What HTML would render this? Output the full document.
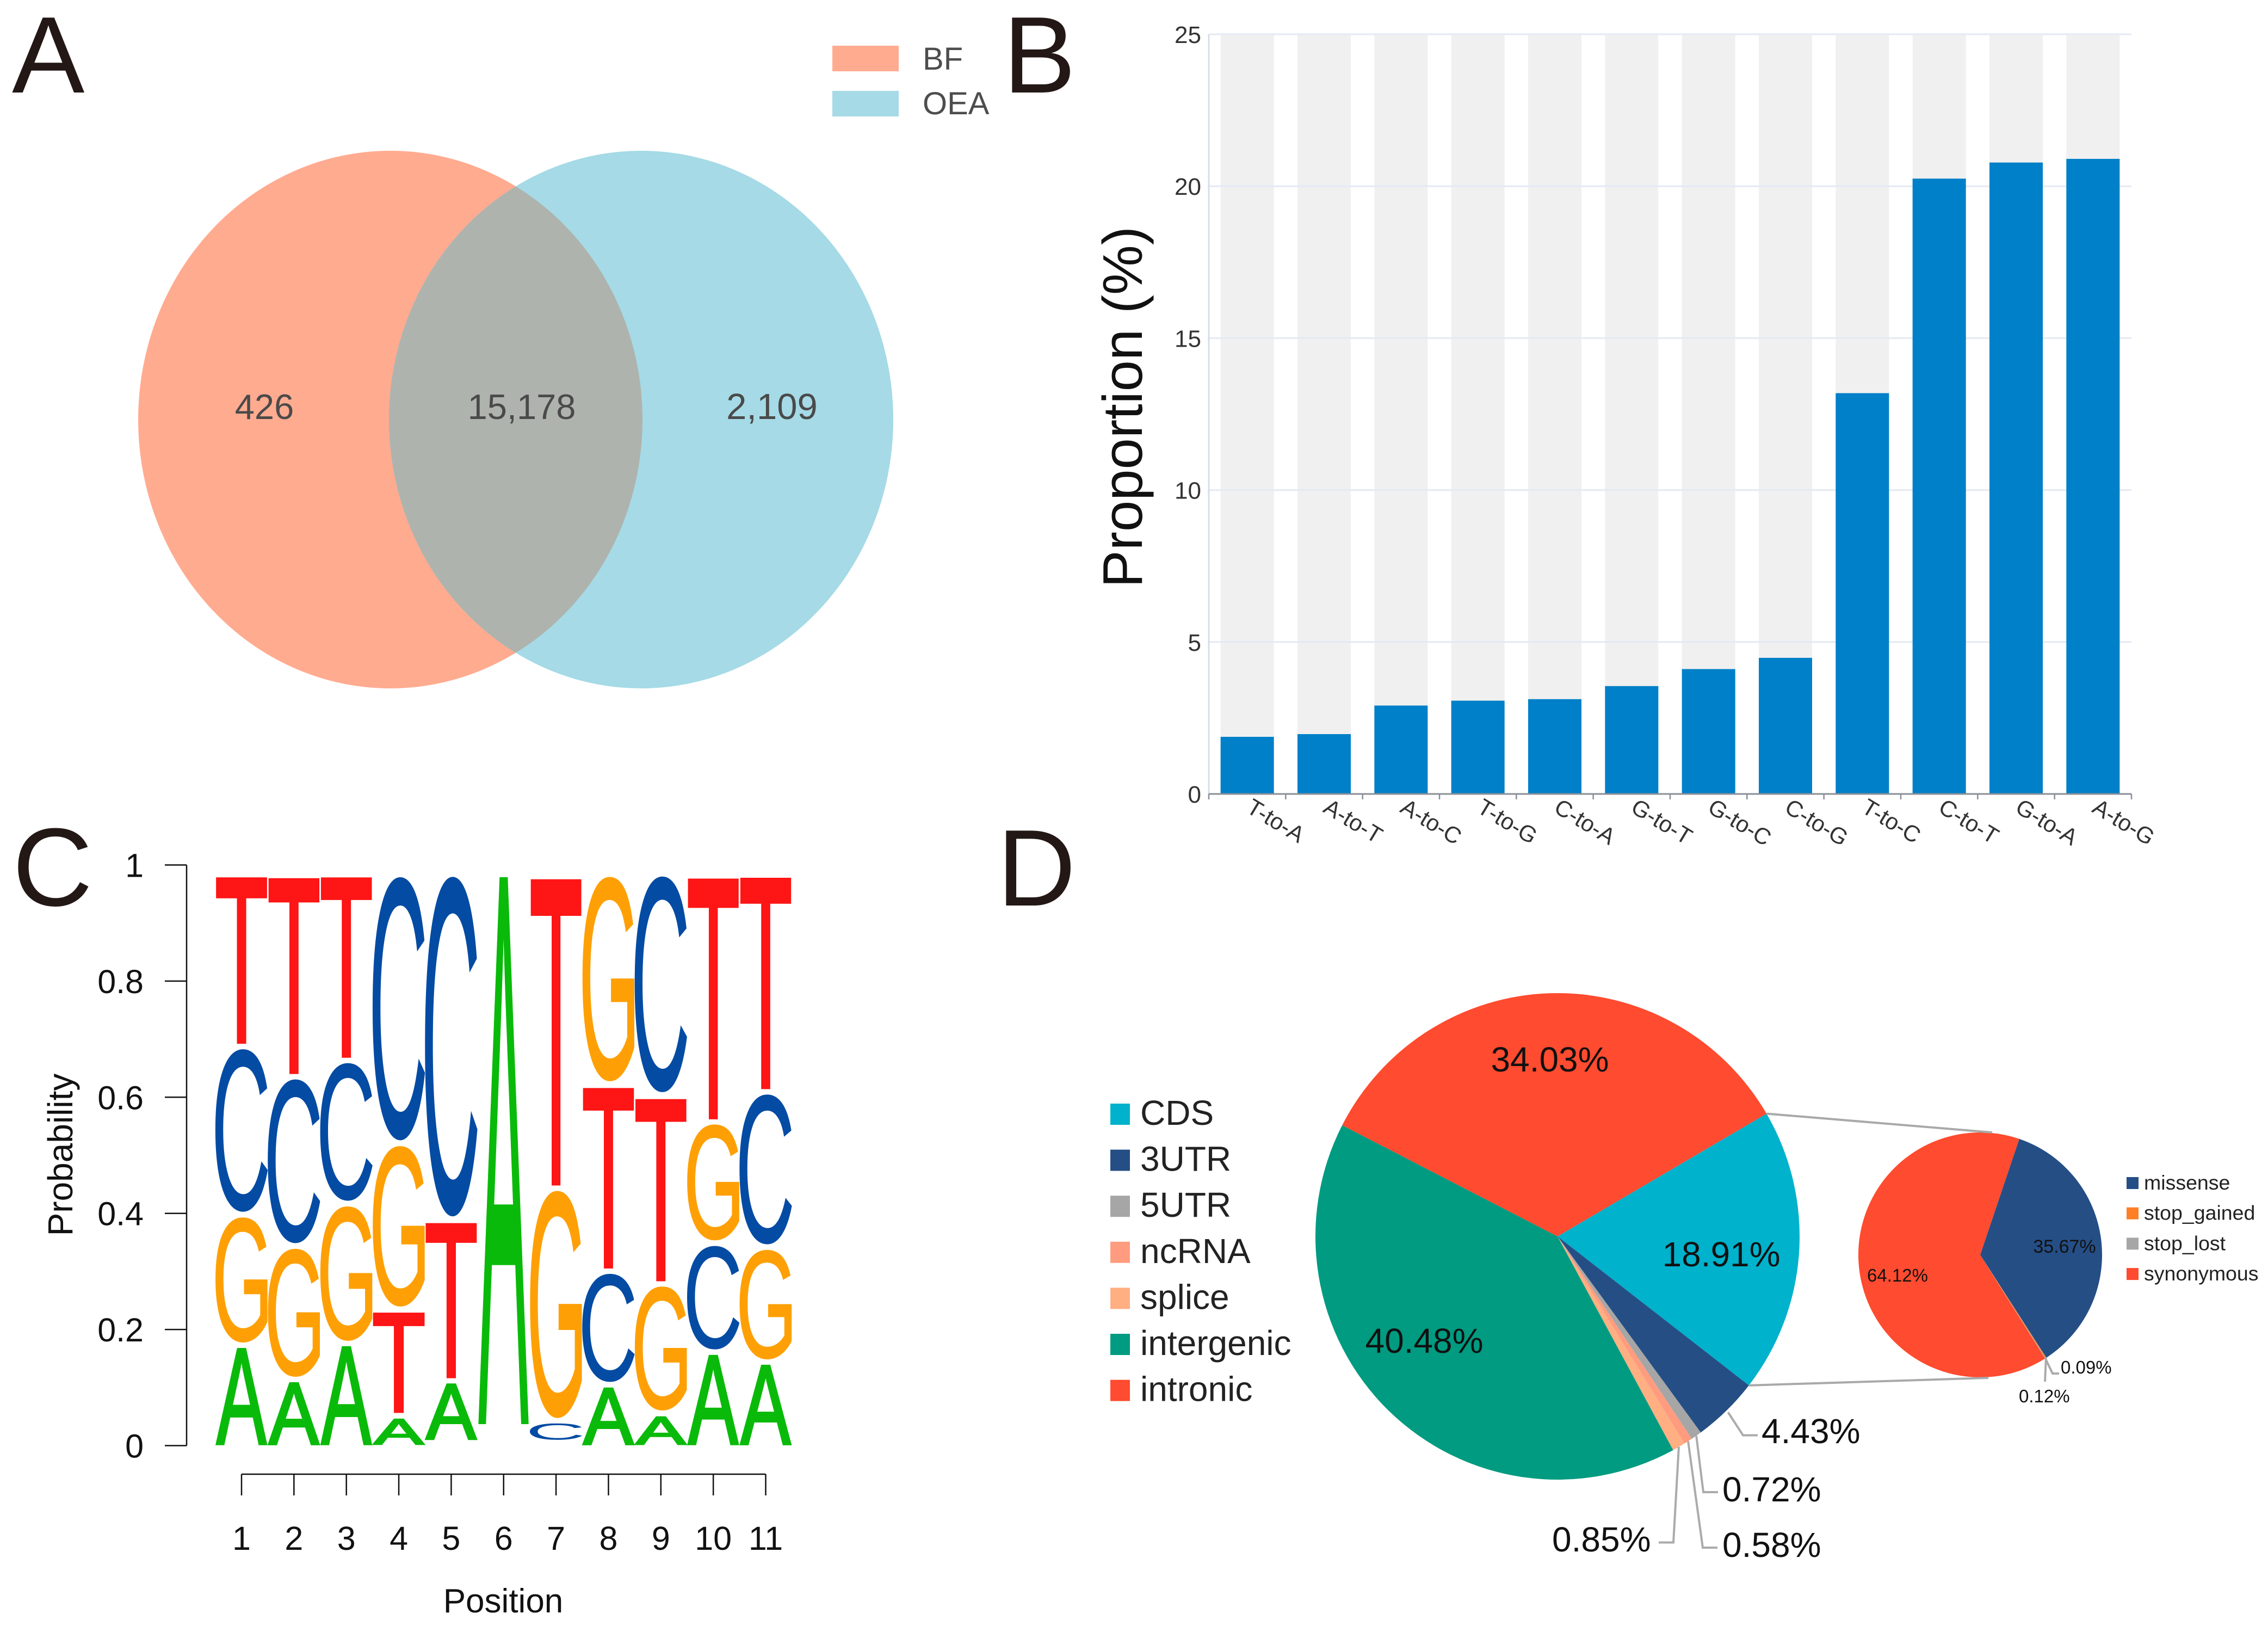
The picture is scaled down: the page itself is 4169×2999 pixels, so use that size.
<!DOCTYPE html>
<html lang="en">
<head>
<meta charset="utf-8">
<title>Variant figure panels A-D</title>
<style>
html,body{margin:0;padding:0;background:#fff;}
svg{display:block;font-family:"Liberation Sans",Arial,sans-serif;}
</style>
</head>
<body>
<svg id="figure" xmlns="http://www.w3.org/2000/svg" width="4169" height="2999" viewBox="0 0 4169 2999">
  <rect x="0" y="0" width="4169" height="2999" fill="#ffffff"/>
  <g font-size="200" fill="#231815">
    <text x="22" y="170">A</text>
    <text x="1844" y="170">B</text>
    <text x="23" y="1664" font-size="204">C</text>
    <text x="1833" y="1664">D</text>
  </g>
  <defs>
    <clipPath id="venn-left-clip"><ellipse cx="717.5" cy="771" rx="463.5" ry="494"/></clipPath>
  </defs>
  <g id="panel-a">
    <ellipse cx="717.5" cy="771" rx="463.5" ry="494" fill="#FFAB90"/>
    <ellipse cx="1178.5" cy="771" rx="463.5" ry="494" fill="#A5DAE6"/>
    <ellipse cx="1178.5" cy="771" rx="463.5" ry="494" fill="#AFB3AD" clip-path="url(#venn-left-clip)"/>
    <rect x="1530" y="84" width="122" height="47" fill="#FFAB90"/>
    <rect x="1530" y="167" width="122" height="47" fill="#A5DAE6"/>
    <text x="1696" y="128" font-size="58" fill="#4d4d4d">BF</text>
    <text x="1696" y="210" font-size="58" fill="#4d4d4d">OEA</text>
    <text x="486" y="770" font-size="65" fill="#4a4a4a" text-anchor="middle">426</text>
    <text x="959" y="770" font-size="65" fill="#4a4a4a" text-anchor="middle">15,178</text>
    <text x="1419" y="770" font-size="67" fill="#4a4a4a" text-anchor="middle">2,109</text>
  </g>
  <g id="panel-b"></g>
  <g id="panel-c"></g>
  <g id="panel-d"></g>
</svg>
<script>
/* Panel B data */
const mutationTypes = ["T-to-A","A-to-T","A-to-C","T-to-G","C-to-A","G-to-T","G-to-C","C-to-G","T-to-C","C-to-T","G-to-A","A-to-G"];
const mutationProportions = [1.88,1.97,2.91,3.07,3.12,3.55,4.11,4.48,13.19,20.25,20.78,20.9];
const proportionTicks = [0,5,10,15,20,25];

/* Panel C data: probability of each base at positions 1 to 11 */
const logoPositions = [1,2,3,4,5,6,7,8,9,10,11];
const logoBaseA = [0.173,0.114,0.176,0.052,0.103,0.950,0.010,0.105,0.056,0.161,0.144];
const logoBaseC = [0.290,0.292,0.247,0.459,0.591,0.015,0.033,0.196,0.377,0.188,0.268];
const logoBaseG = [0.225,0.230,0.241,0.286,0.009,0.010,0.401,0.357,0.223,0.209,0.198];
const logoBaseT = [0.293,0.344,0.317,0.183,0.278,0.006,0.536,0.322,0.325,0.422,0.371];
const probabilityTicks = [0,0.2,0.4,0.6,0.8,1];

/* Panel D data */
const regionNames = ["CDS","3UTR","5UTR","ncRNA","splice","intergenic","intronic"];
const regionShares = [18.91,4.43,0.72,0.58,0.85,40.48,34.03];
const cdsNames = ["missense","stop_gained","stop_lost","synonymous"];
const cdsShares = [35.67,0.12,0.09,64.12];

const SVGNS = "http://www.w3.org/2000/svg";
function make(parent, tag, attrs, content) {
  const node = document.createElementNS(SVGNS, tag);
  for (const key in attrs) node.setAttribute(key, attrs[key]);
  if (content !== undefined) node.textContent = content;
  parent.appendChild(node);
  return node;
}
function slug(s) {
  return String(s).toLowerCase().replace(/[^a-z0-9]+/g, "-");
}

/* ---------- Panel B ---------- */
(function () {
  const g = document.getElementById("panel-b");
  const left = 2222, right = 3918, base = 1459, top = 63, maxV = 25;
  const band = (right - left) / mutationTypes.length;
  const barW = 98;
  const xB = i => left + band * (i + 0.5);
  const yB = v => base - (base - top) * v / maxV;

  mutationTypes.forEach(function (name, i) {
    const r = make(g, "rect", {x: xB(i) - barW / 2, y: top, width: barW, height: base - top, fill: "#F0F0F0"});
    
    
  });
  proportionTicks.forEach(function (t) {
    if (t !== 0) {
      const l = make(g, "line", {x1: left, x2: right, y1: yB(t), y2: yB(t), stroke: "#E4E9F3", "stroke-width": 3});
      
      
    }
    const lab = make(g, "text", {x: 2208, y: yB(t) + 16, "font-size": 44, fill: "#333", "text-anchor": "end"}, String(t));
    
    
  });
  const yAxis = make(g, "line", {x1: left, x2: left, y1: top, y2: base, stroke: "#D5DDEB", "stroke-width": 3});
  
  

  mutationProportions.forEach(function (v, i) {
    const r = make(g, "rect", {x: xB(i) - barW / 2, y: yB(v), width: barW, height: base - yB(v), fill: "#0080C8"});
    
    
  });
  const xAxis = make(g, "line", {x1: left, x2: right, y1: base, y2: base, stroke: "#8a8f98", "stroke-width": 3});
  
  
  for (let i = 0; i <= mutationTypes.length; i++) {
    const t = make(g, "line", {x1: left + band * i, x2: left + band * i, y1: base, y2: base + 10, stroke: "#8a8f98", "stroke-width": 2.5});
    
    
  }
  mutationTypes.forEach(function (name, i) {
    const x = xB(i) - 4, y = 1491;
    const lab = make(g, "text", {x: x, y: y, "font-size": 42, fill: "#333", transform: "rotate(31 " + x + " " + y + ")"}, name);
    
    
  });
  const title = make(g, "text", {x: 0, y: 0, "font-size": 103, fill: "#111", "text-anchor": "middle", transform: "translate(2099 748) rotate(-90)"}, "Proportion (%)");
  
  
})();

/* ---------- Panel C ---------- */
(function () {
  const g = document.getElementById("panel-c");
  const xL = i => 444 + 96.35 * i;
  const yL = p => 2656.5 - 1067 * p;
  const letterW = 96.5;
  const baseColor = {A: "#0ABA0A", C: "#044BA3", G: "#FEA005", T: "#FE1515"};
  const baseStroke = {A: 4, C: 0, G: 1.5, T: 4};
  const ctx = document.createElement("canvas").getContext("2d");
  const metric = {};
  ["A", "C", "G", "T"].forEach(function (b) {
    ctx.font = '200px "Liberation Sans"';
    const m = ctx.measureText(b);
    metric[b] = {
      l: m.actualBoundingBoxLeft / 2,
      r: m.actualBoundingBoxRight / 2,
      a: m.actualBoundingBoxAscent / 2,
      d: m.actualBoundingBoxDescent / 2
    };
  });

  logoPositions.forEach(function (pos, i) {
    const stack = [
      {b: "A", v: logoBaseA[i]},
      {b: "C", v: logoBaseC[i]},
      {b: "G", v: logoBaseG[i]},
      {b: "T", v: logoBaseT[i]}
    ].sort(function (p, q) { return p.v - q.v; });
    let cum = 0;
    stack.forEach(function (item, k) {
      const bottomP = cum, topP = cum + item.v;
      cum = topP;
      if (item.v < 0.02) return;
      const sw = baseStroke[item.b];
      const inBottom = (bottomP >= 0.04 ? 5 : 0) + sw / 2;
      const inTop = (k < stack.length - 1 ? 5 : 0) + sw / 2;
      const yBot = yL(bottomP) - inBottom;
      const yTop = yL(topP) + inTop;
      const m = metric[item.b];
      const sx = (letterW - sw) / (m.l + m.r);
      const sy = (yBot - yTop) / (m.a + m.d);
      const tx = xL(i) - (letterW - sw) / 2 + m.l * sx;
      const ty = yBot - m.d * sy;
      const t = make(g, "text", {
        x: 0, y: 0, "font-size": 100, fill: baseColor[item.b],
        stroke: baseColor[item.b], "stroke-width": sw, "vector-effect": "non-scaling-stroke",
        transform: "translate(" + tx + " " + ty + ") scale(" + sx + " " + sy + ")"
      }, item.b);
      
      
    });
  });

  const axis = make(g, "line", {x1: 343, x2: 343, y1: yL(1), y2: yL(0), stroke: "#111", "stroke-width": 2.5});
  
  
  probabilityTicks.forEach(function (t) {
    const tick = make(g, "line", {x1: 303, x2: 343, y1: yL(t), y2: yL(t), stroke: "#111", "stroke-width": 2.5});
    
    
    const lab = make(g, "text", {x: 264, y: yL(t) + 22, "font-size": 61, fill: "#111", "text-anchor": "end"}, String(t));
    
    
  });
  const xaxis = make(g, "line", {x1: xL(0), x2: xL(logoPositions.length - 1), y1: 2709, y2: 2709, stroke: "#111", "stroke-width": 2.5});
  
  
  logoPositions.forEach(function (pos, i) {
    const tick = make(g, "line", {x1: xL(i), x2: xL(i), y1: 2709, y2: 2748, stroke: "#111", "stroke-width": 2.5});
    
    
    const lab = make(g, "text", {x: xL(i), y: 2848, "font-size": 61, fill: "#111", "text-anchor": "middle"}, String(pos));
    
    
  });
  const xt = make(g, "text", {x: 925, y: 2963, "font-size": 62, fill: "#111", "text-anchor": "middle"}, "Position");
  
  
  const yt = make(g, "text", {x: 0, y: 0, "font-size": 64, fill: "#111", "text-anchor": "middle", transform: "translate(133 2122) rotate(-90)"}, "Probability");
  
  
})();

/* ---------- Panel D ---------- */
(function () {
  const g = document.getElementById("panel-d");
  const regionColors = ["#00B2CC", "#254E85", "#A6A6A6", "#FF9C7F", "#FFAF82", "#009B80", "#FF4B2F"];
  const cdsColors = ["#254E85", "#FF7F27", "#A6A6A6", "#FF4B2F"];

  function pt(c, deg, f) {
    const a = deg * Math.PI / 180;
    return [c.x + c.rx * (f === undefined ? 1 : f) * Math.sin(a), c.y - c.ry * (f === undefined ? 1 : f) * Math.cos(a)];
  }
  function angles(shares, start) {
    const total = shares.reduce(function (s, v) { return s + v; }, 0);
    let a = start;
    return shares.map(function (v) {
      const s = a;
      a += v / total * 360;
      return [s, a];
    });
  }
  function slice(c, a0, a1, fill) {
    const p0 = pt(c, a0), p1 = pt(c, a1);
    const d = "M" + c.x + " " + c.y + "L" + p0[0] + " " + p0[1] + "A" + c.rx + " " + c.ry + " 0 " + (a1 - a0 > 180 ? 1 : 0) + " 1 " + p1[0] + " " + p1[1] + "Z";
    return make(g, "path", {d: d, fill: fill});
  }

  const big = {x: 2863, y: 2272, rx: 445, ry: 447};
  const small = {x: 3640, y: 2306, rx: 224, ry: 225};
  const bigA = angles(regionShares, 59.7);
  const smallA = angles(cdsShares, 18.7);

  regionNames.forEach(function (name, i) {
    const s = slice(big, bigA[i][0], bigA[i][1], regionColors[i]);
    
    
  });
  cdsNames.forEach(function (name, i) {
    const s = slice(small, smallA[i][0], smallA[i][1], cdsColors[i]);
    
    
  });

  /* connectors between the CDS wedge edges and the small pie */
  const c1a = pt(big, bigA[0][0]), c2a = pt(big, bigA[0][1]);
  const conn1 = make(g, "line", {x1: c1a[0], y1: c1a[1], x2: 3662, y2: 2081, stroke: "#A9A9A9", "stroke-width": 4});
  
  
  const conn2 = make(g, "line", {x1: c2a[0], y1: c2a[1], x2: 3655, y2: 2532, stroke: "#A9A9A9", "stroke-width": 4});
  
  

  /* leader lines */
  function leader(c, deg, f, tail, name) {
    const s = pt(c, deg, f);
    const pts = [s].concat(tail).map(function (p) { return p.join(","); }).join(" ");
    const l = make(g, "polyline", {points: pts, fill: "none", stroke: "#ABABAB", "stroke-width": 4});
    
    
  }
  const mid = a => (a[0] + a[1]) / 2;
  leader(big, mid(bigA[1]), 1.01, [[3204, 2637.5], [3231, 2637.5]], "leader-3utr");
  leader(big, mid(bigA[2]), 1.0, [[3131, 2742], [3158, 2742]], "leader-5utr");
  leader(big, mid(bigA[3]), 1.0, [[3130, 2844], [3157, 2844]], "leader-ncrna");
  leader(big, mid(bigA[4]), 1.0, [[3076, 2834.5], [3049, 2834.5]], "leader-splice");
  leader(small, mid(smallA[2]), 1.0, [[3773, 2524], [3785, 2524]], "leader-stop-lost");
  leader(small, mid(smallA[1]), 1.0, [[3759, 2539]], "leader-stop-gained");

  /* printed percentages */
  const pct = v => v.toFixed(2) + "%";
  function printed(text, x, y, size, anchor, name) {
    const t = make(g, "text", {x: x, y: y, "font-size": size, fill: "#111", "text-anchor": anchor}, text);
    
    
  }
  printed(pct(regionShares[0]), 3164, 2327, 64, "middle", "value-label-cds");
  printed(pct(regionShares[1]), 3238, 2652, 64, "start", "value-label-3utr");
  printed(pct(regionShares[2]), 3166, 2759, 64, "start", "value-label-5utr");
  printed(pct(regionShares[3]), 3166, 2861, 64, "start", "value-label-ncrna");
  printed(pct(regionShares[4]), 2853, 2851, 64, "start", "value-label-splice");
  printed(pct(regionShares[5]), 2618, 2486, 64, "middle", "value-label-intergenic");
  printed(pct(regionShares[6]), 2849, 1969, 64, "middle", "value-label-intronic");
  printed(pct(cdsShares[0]), 3795, 2302, 34, "middle", "value-label-missense");
  printed(pct(cdsShares[1]), 3711, 2577, 33, "start", "value-label-stop-gained");
  printed(pct(cdsShares[2]), 3788, 2524, 33, "start", "value-label-stop-lost");
  printed(pct(cdsShares[3]), 3488, 2355, 33, "middle", "value-label-synonymous");

  /* legends */
  regionNames.forEach(function (name, i) {
    const sw = make(g, "rect", {x: 2041, y: 2028 + 84.6 * i, width: 36, height: 39, fill: regionColors[i]});
    
    
    const lab = make(g, "text", {x: 2096, y: 2067 + 84.6 * i, "font-size": 64, fill: "#222"}, name);
    
    
  });
  cdsNames.forEach(function (name, i) {
    const sw = make(g, "rect", {x: 3909, y: 2163 + 55.7 * i, width: 22, height: 22, fill: cdsColors[i]});
    
    
    const lab = make(g, "text", {x: 3941, y: 2186 + 55.7 * i, "font-size": 37.5, fill: "#222"}, name);
    
    
  });
})();
</script>
</body>
</html>
